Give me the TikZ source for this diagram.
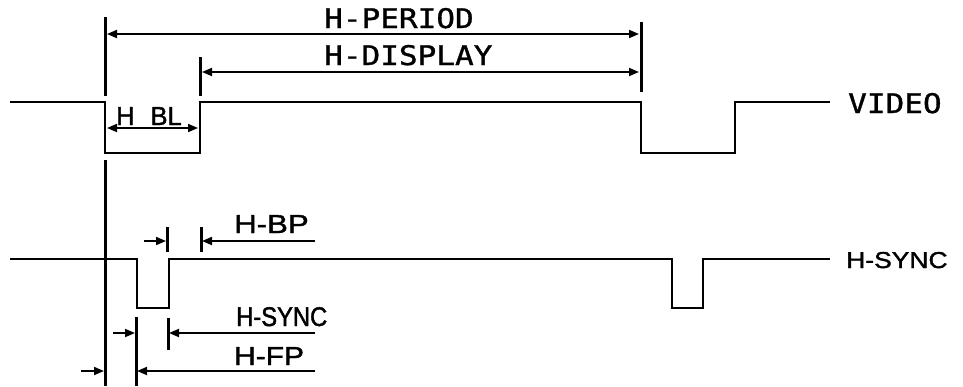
\documentclass[tikz,border=0pt]{standalone}
\usepackage{fontspec}
\newfontfamily\plotmono[FakeStretch=1.15,FakeBold=1.2]{DejaVu Sans Mono}
\newfontfamily\plotsans[FakeStretch=0.98,FakeBold=1.5]{Liberation Sans}
\newfontfamily\sansnarrow[FakeStretch=0.88,FakeBold=1.5]{Liberation Sans}
\newfontfamily\sanswide[FakeStretch=1.15,FakeBold=1.5]{Liberation Sans}
\newfontfamily\sanswider[FakeStretch=1.2,FakeBold=1.5]{Liberation Sans}
\usetikzlibrary{arrows.meta}
\tikzset{
  sig/.style={line width=2.6pt},
  marker/.style={line width=3pt},
  dim/.style={line width=1.8pt},
  tip/.tip={Triangle[length=10pt,width=8pt]},
  monolab/.style={inner sep=0pt, anchor=base west, font=\plotmono\fontsize{27}{27}\selectfont},
  sanslab/.style={inner sep=0pt, anchor=base west, font=\plotsans\fontsize{26}{26}\selectfont},
}
\begin{document}
\begin{tikzpicture}[x=1pt,y=-1pt]
\useasboundingbox (0,0) rectangle (963,386);
% signals
\draw[sig] (10,102) -- (105,102) -- (105,153) -- (200,153) -- (200,102) -- (641,102) -- (641,153) -- (735,153) -- (735,102) -- (830,102);
\draw[sig] (10,259) -- (137,259) -- (137,308) -- (169,308) -- (169,259) -- (672,259) -- (672,308) -- (703,308) -- (703,259) -- (830,259);
% markers
\coordinate (m1t) at (105,17);  \coordinate (m1b) at (105,96);
\coordinate (m1lt) at (105,160); \coordinate (m1lb) at (105,386);
\coordinate (m2t) at (200,57);  \coordinate (m2b) at (200,96);
\coordinate (m3t) at (641,22);  \coordinate (m3b) at (641,92);
\draw[marker] (m1t) -- (m1b);
\draw[marker] (m1lt) -- (m1lb);
\draw[marker] (m2t) -- (m2b);
\draw[marker] (m3t) -- (m3b);
% H-PERIOD / H-DISPLAY
\coordinate (pl) at (107,34); \coordinate (pr) at (639,34);
\coordinate (dl) at (202,72); \coordinate (dr) at (639,72);
\draw[dim,{tip}-{tip}] (pl) -- (pr);
\draw[dim,{tip}-{tip}] (dl) -- (dr);
\node[monolab] (hper) at (324,28) {H-PERIOD};
\node[monolab] (hdis) at (324,65) {H-DISPLAY};
% H BL
\coordinate (bl) at (107,128); \coordinate (br) at (198,128);
\draw[dim,{tip}-{tip}] (bl) -- (br);
\node[sanslab] (hbl) at (116,125) {H\hspace{16pt}BL};
% labels
\node[monolab] (video) at (848,113) {VIDEO};
\node[sanslab, font=\sanswide\fontsize{23}{23}\selectfont] (hsync) at (846,268) {H-SYNC};
% H-BP
\coordinate (bpt1) at (167,227); \coordinate (bpb1) at (167,252);
\coordinate (bpt2) at (201,227); \coordinate (bpb2) at (201,252);
\draw[marker] (bpt1) -- (bpb1);
\draw[marker] (bpt2) -- (bpb2);
\coordinate (bpa) at (144,241); \coordinate (bpa2) at (166,241);
\coordinate (bpc) at (315,241); \coordinate (bpc2) at (202,241);
\draw[dim,-{tip}] (bpa) -- (bpa2);
\draw[dim,-{tip}] (bpc) -- (bpc2);
\node[sanslab, font=\sanswider\fontsize{26}{26}\selectfont] (hbp) at (234,233) {H-BP};
% H-SYNC dim
\coordinate (st1) at (136,317); \coordinate (sb1) at (136,386);
\coordinate (st2) at (168,318); \coordinate (sb2) at (168,350);
\draw[marker] (st1) -- (sb1);
\draw[marker] (st2) -- (sb2);
\coordinate (sa) at (113,333); \coordinate (sa2) at (135,333);
\coordinate (sc) at (315,333); \coordinate (sc2) at (169,333);
\draw[dim,-{tip}] (sa) -- (sa2);
\draw[dim,-{tip}] (sc) -- (sc2);
\node[sanslab, font=\sansnarrow\fontsize{27}{27}\selectfont] (hsync2) at (236,326) {H-SYNC};
% H-FP
\coordinate (fa) at (81,371); \coordinate (fa2) at (104,371);
\coordinate (fc) at (315,371); \coordinate (fc2) at (137,371);
\draw[dim,-{tip}] (fa) -- (fa2);
\draw[dim,-{tip}] (fc) -- (fc2);
\node[sanslab, font=\sanswide\fontsize{26}{26}\selectfont] (hfp) at (234,365) {H-FP};
\end{tikzpicture}
\end{document}
